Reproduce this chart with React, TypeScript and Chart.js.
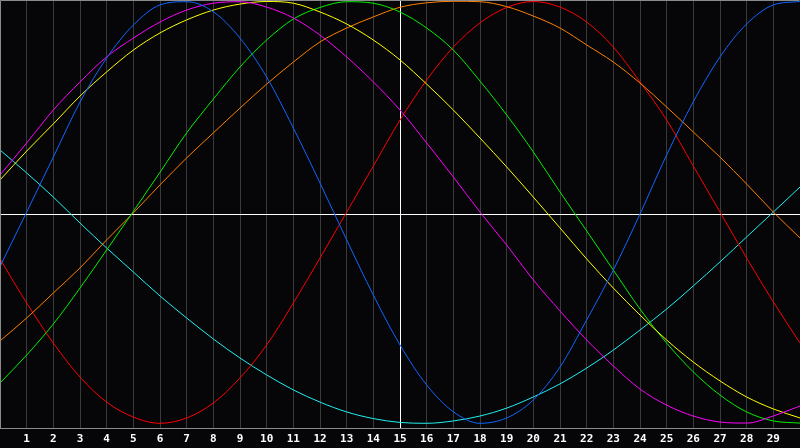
import React, { useEffect, useRef } from "react";
import { Chart, registerables } from "chart.js";

Chart.register(...registerables);

const xValues = [0,1,2,3,4,5,6,7,8,9,10,11,12,13,14,15,16,17,18,19,20,21,22,23,24,25,26,27,28,29,30];

const blueSeries = [-0.246,0.009,0.266,0.523,0.729,0.883,0.977,0.992,0.945,0.822,0.640,0.402,0.145,-0.121,-0.379,-0.612,-0.799,-0.924,-0.978,-0.953,-0.869,-0.715,-0.495,-0.262,0.000,0.276,0.525,0.734,0.888,0.977,0.993];
const magentaSeries = [0.182,0.332,0.486,0.617,0.734,0.822,0.897,0.953,0.985,0.992,0.967,0.916,0.836,0.734,0.617,0.486,0.332,0.173,0.009,-0.145,-0.308,-0.453,-0.589,-0.710,-0.818,-0.893,-0.944,-0.972,-0.977,-0.944,-0.897];
const yellowSeries = [0.159,0.294,0.421,0.551,0.664,0.766,0.846,0.907,0.953,0.981,0.993,0.985,0.944,0.888,0.813,0.720,0.607,0.486,0.355,0.220,0.079,-0.065,-0.210,-0.346,-0.472,-0.589,-0.692,-0.780,-0.855,-0.911,-0.953];
const greenSeries = [-0.790,-0.659,-0.514,-0.346,-0.168,0.012,0.195,0.379,0.537,0.687,0.813,0.911,0.965,0.992,0.985,0.944,0.869,0.766,0.621,0.463,0.290,0.103,-0.079,-0.262,-0.444,-0.603,-0.738,-0.846,-0.925,-0.967,-0.977];
const orangeSeries = [-0.593,-0.486,-0.369,-0.252,-0.121,0.005,0.136,0.262,0.379,0.495,0.607,0.710,0.804,0.869,0.921,0.966,0.987,0.994,0.992,0.969,0.925,0.869,0.790,0.710,0.612,0.500,0.383,0.266,0.140,0.009,-0.112];
const redSeries = [-0.210,-0.416,-0.603,-0.762,-0.879,-0.949,-0.978,-0.953,-0.883,-0.766,-0.612,-0.416,-0.206,0.009,0.224,0.439,0.626,0.780,0.893,0.965,0.993,0.967,0.897,0.780,0.617,0.439,0.224,0.009,-0.206,-0.411,-0.603];
const cyanSeries = [0.299,0.192,0.079,-0.042,-0.159,-0.271,-0.383,-0.486,-0.584,-0.673,-0.752,-0.822,-0.879,-0.925,-0.956,-0.974,-0.978,-0.967,-0.944,-0.907,-0.855,-0.794,-0.720,-0.636,-0.542,-0.444,-0.336,-0.224,-0.107,0.009,0.126];

const seriesList = [
  { name: "blue", values: blueSeries, color: "#0f66ff" },
  { name: "magenta", values: magentaSeries, color: "#ff00ff" },
  { name: "yellow", values: yellowSeries, color: "#ffff00" },
  { name: "green", values: greenSeries, color: "#00f000" },
  { name: "orange", values: orangeSeries, color: "#ff8000" },
  { name: "red", values: redSeries, color: "#ff0000" },
  { name: "cyan", values: cyanSeries, color: "#20f0f0" },
];

const xMin = 0;
const xMax = 30;
const yMin = -1;
const yMax = 1;
const refX = 15;
const refY = 0;

export default function App() {
  const canvasRef = useRef<HTMLCanvasElement | null>(null);

  useEffect(() => {
    const canvas = canvasRef.current;
    if (!canvas) return;

    const framePlugin = {
      id: "frame",
      beforeDraw(chart: any) {
        const ctx = chart.ctx;
        ctx.save();
        ctx.fillStyle = "#060609";
        ctx.fillRect(0, 0, chart.width, chart.height);
        ctx.restore();
      },
      beforeDatasetsDraw(chart: any) {
        const { ctx, chartArea, scales } = chart;
        const px = Math.floor(scales.x.getPixelForValue(refX)) + 0.5;
        const py = Math.floor(scales.y.getPixelForValue(refY)) + 0.5;
        ctx.save();
        ctx.strokeStyle = "#ffffff";
        ctx.lineWidth = 1;
        ctx.beginPath();
        ctx.moveTo(chartArea.left, py);
        ctx.lineTo(chartArea.right, py);
        ctx.moveTo(px, chartArea.top);
        ctx.lineTo(px, chartArea.bottom);
        ctx.stroke();
        ctx.restore();
      },
      afterDraw(chart: any) {
        const { ctx, chartArea } = chart;
        ctx.save();
        ctx.strokeStyle = "#8a8a8a";
        ctx.lineWidth = 1;
        ctx.beginPath();
        ctx.moveTo(chartArea.left + 0.5, chartArea.bottom + 0.5);
        ctx.lineTo(chartArea.left + 0.5, chartArea.top + 0.5);
        ctx.lineTo(chartArea.right - 0.5, chartArea.top + 0.5);
        ctx.moveTo(chartArea.left, chartArea.bottom + 0.5);
        ctx.lineTo(chartArea.right, chartArea.bottom + 0.5);
        ctx.stroke();
        ctx.restore();
      },
    };

    const curveSets = seriesList.map((s) => ({
      label: s.name,
      data: xValues.map((x, i) => ({ x, y: s.values[i] })),
      borderColor: s.color,
      backgroundColor: s.color,
      borderWidth: 1,
      pointRadius: 0,
      pointHoverRadius: 0,
      pointBorderWidth: 0,
      cubicInterpolationMode: "monotone" as const,
      fill: false,
    }));

    const chart = new Chart(canvas, {
      type: "line",
      data: { datasets: curveSets as any },
      options: {
        animation: false,
        responsive: false,
        devicePixelRatio: 1,
        layout: { padding: 0, autoPadding: false },
        plugins: {
          legend: { display: false },
          tooltip: { enabled: false },
        },
        scales: {
          x: {
            type: "linear",
            min: xMin,
            max: xMax,
            afterFit: (scale: any) => {
              scale.height = 20;
              scale.paddingLeft = 0;
              scale.paddingRight = 0;
            },
            ticks: {
              stepSize: 1,
              autoSkip: false,
              maxRotation: 0,
              padding: 5,
              color: "#ffffff",
              font: { family: "'DejaVu Sans Mono'", weight: "bold", size: 11 },
              callback: (v: any) => (v > xMin && v < xMax ? String(v) : ""),
            },
            grid: {
              color: "#3a3a3a",
              lineWidth: 1,
              drawTicks: false,
            },
            border: { display: false },
          },
          y: {
            type: "linear",
            min: yMin,
            max: yMax,
            display: false,
          },
        },
      } as any,
      plugins: [framePlugin],
    });

    return () => chart.destroy();
  }, []);

  return (
    <div style={{ position: "absolute", left: 0, top: 0, width: 800, height: 448 }}>
      <canvas ref={canvasRef} width={800} height={448} style={{ display: "block" }} />
    </div>
  );
}
